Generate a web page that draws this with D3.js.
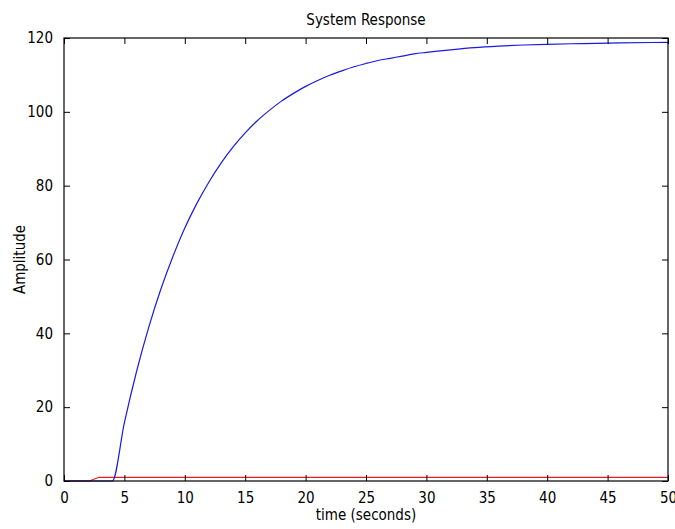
<!DOCTYPE html>
<html>
<head>
<meta charset="utf-8">
<script src="https://cdn.jsdelivr.net/npm/d3@7"></script>
<style>
  body { margin: 0; background: #fff; }
  svg { display: block; }
  text { font-family: "DejaVu Sans Condensed", "Liberation Sans Narrow", "DejaVu Sans", sans-serif; font-stretch: condensed; fill: #000; }
</style>
</head>
<body>
<div id="chart"></div>
<script>

WIDTH = 675;
HEIGHT = 529;

var margin = { top: 38, right: 4, bottom: 48, left: 64 };

// blue trace: delayed first order rise
var blue_t = [0, 4, 5, 6, 7, 8, 9, 10, 11, 12, 13, 14, 15, 16, 17, 18, 19, 20,
              21, 22, 23, 24, 25, 26, 27, 28, 29, 30, 32, 34, 36, 38, 40, 43, 46, 50];
var blue_v = [0, 0, 15.8, 29.6, 41.5, 51.8, 60.7, 68.5, 75.2, 81.0, 86.1, 90.5, 94.3, 97.6, 100.4, 102.9, 105.0, 106.9,
              108.5, 109.9, 111.1, 112.2, 113.1, 113.9, 114.5, 115.1, 115.7, 116.1, 116.8, 117.4, 117.8, 118.1, 118.3, 118.5, 118.7, 118.8];

// red trace: small step
var red_t = [0, 2.1, 2.9, 50];
var red_v = [0, 0, 1, 1];

var x_ticks = [0, 5, 10, 15, 20, 25, 30, 35, 40, 45, 50];
var y_ticks = [0, 20, 40, 60, 80, 100, 120];

var title_text = "System Response";
var x_label = "time (seconds)";
var y_label = "Amplitude";


function zip(ts, vs) {
    return ts.map(function (t, i) { return { t: t, v: vs[i] }; });
}


var pw = WIDTH - margin.left - margin.right - 3;
var ph = HEIGHT - margin.top - margin.bottom;
var fs = "15px";

var svg = d3.select("#chart").append("svg")
    .attr("width", WIDTH)
    .attr("height", HEIGHT);

var chart = svg.append("g")
    .attr("transform", "translate(" + margin.left + "," + margin.top + ")");

var x = d3.scaleLinear().domain([0, 50]).range([0, pw]);
var y = d3.scaleLinear().domain([0, 120]).range([ph, 0]);

var line = d3.line()
    .x(function (d) { return x(d.t); })
    .y(function (d) { return y(d.v); })
    .curve(d3.curveMonotoneX);

chart.append("path")
    .datum(zip(red_t, red_v))
    .attr("d", d3.line().x(function (d) { return x(d.t); }).y(function (d) { return y(d.v); }))
    .attr("fill", "none")
    .attr("stroke", "#ee1c1c")
    .attr("stroke-width", 1.2);

chart.append("path")
    .datum(zip(blue_t, blue_v))
    .attr("d", line)
    .attr("fill", "none")
    .attr("stroke", "#1a1ae0")
    .attr("stroke-width", 1.2);

// axes, ticks pointing inward on all four sides
var tl = 6;

chart.append("g")
    .attr("transform", "translate(0," + ph + ")")
    .call(d3.axisBottom(x).tickValues(x_ticks).tickSizeInner(-tl).tickSizeOuter(0).tickPadding(11))
    .call(function (g) { g.select(".domain").remove(); });

chart.append("g")
    .call(d3.axisTop(x).tickValues(x_ticks).tickSizeInner(-tl).tickSizeOuter(0).tickFormat(""))
    .call(function (g) { g.select(".domain").remove(); });

chart.append("g")
    .call(d3.axisLeft(y).tickValues(y_ticks).tickSizeInner(-tl).tickSizeOuter(0).tickPadding(11))
    .call(function (g) { g.select(".domain").remove(); });

chart.append("g")
    .attr("transform", "translate(" + pw + ",0)")
    .call(d3.axisRight(y).tickValues(y_ticks).tickSizeInner(-tl).tickSizeOuter(0).tickFormat(""))
    .call(function (g) { g.select(".domain").remove(); });

chart.selectAll(".tick line").attr("stroke", "#000");
chart.selectAll(".tick text")
    .style("font-size", fs)
    .style("font-family", null);

chart.append("rect")
    .attr("x", 0).attr("y", 0)
    .attr("width", pw).attr("height", ph)
    .attr("fill", "none")
    .attr("stroke", "#000")
    .attr("stroke-width", 1.2);

// texts
svg.append("text")
    .attr("x", margin.left + pw / 2)
    .attr("y", 25)
    .attr("text-anchor", "middle")
    .style("font-size", fs)
    .text(title_text);

svg.append("text")
    .attr("x", margin.left + pw / 2)
    .attr("y", 520)
    .attr("text-anchor", "middle")
    .style("font-size", fs)
    .text(x_label);

svg.append("text")
    .attr("transform", "translate(25," + (margin.top + ph / 2) + ") rotate(-90)")
    .attr("text-anchor", "middle")
    .style("font-size", fs)
    .text(y_label);

</script>
</body>
</html>
